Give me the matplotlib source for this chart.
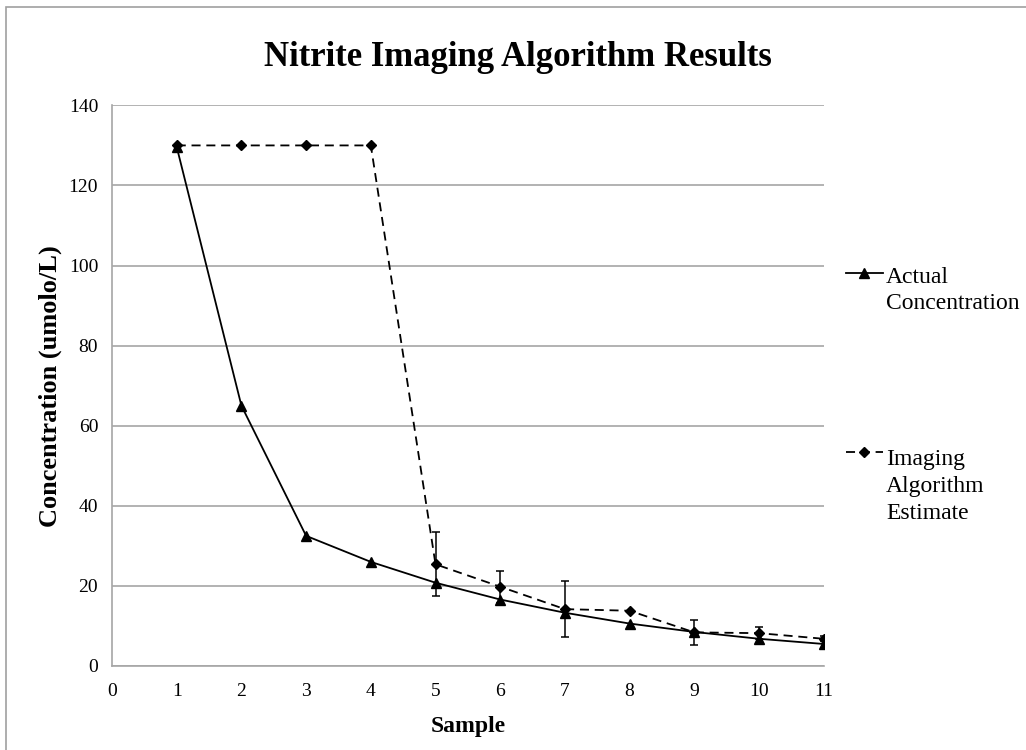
import matplotlib
matplotlib.use("Agg")
import matplotlib.pyplot as plt
from matplotlib.patches import Rectangle

samples = [1, 2, 3, 4, 5, 6, 7, 8, 9, 10, 11]
actual = [129.6, 65, 32.5, 26, 20.8, 16.6, 13.3, 10.6, 8.5, 6.8, 5.5]
estimate = [130, 130, 130, 130, 25.4, 19.8, 14.2, 13.8, 8.4, 8.2, 6.8]
est_err = [0, 0, 0, 0, 8.0, 4.0, 7.0, 0, 3.1, 1.5, 0.6]
series_labels = ['Actual\nConcentration', 'Imaging\nAlgorithm\nEstimate']

plt.rcParams['font.family'] = ['Liberation Serif', 'DejaVu Serif']

fig = plt.figure(figsize=(10.26, 7.5), dpi=100)
fig.patches.append(Rectangle((0.0055, -0.05), 1.2, 1.0405, transform=fig.transFigure,
                             fill=False, edgecolor='#a0a0a0', linewidth=1.2))

ax = fig.add_axes([0.1092, 0.112, 0.6936, 0.7475])

dash = (0, (5, 3.2))
ax.plot(samples, actual, color='black', linewidth=1.3, marker='^', markersize=6.5,
        zorder=3)
ax.errorbar(samples, estimate, yerr=est_err, color='black', linewidth=1.3,
            linestyle=dash, marker='D', markersize=5, ecolor='black',
            elinewidth=1.1, capsize=3, capthick=1.1, zorder=4)

ax.set_xlim(0, 11)
ax.set_ylim(0, 140)
ax.set_xticks(range(0, 12))
ax.set_yticks(range(0, 141, 20))
ax.yaxis.grid(True, color='#a6a6a6', linewidth=1.2)
ax.set_axisbelow(True)
for s in ['top', 'right']:
    ax.spines[s].set_visible(False)
for s in ['left', 'bottom']:
    ax.spines[s].set_color('#a6a6a6')
    ax.spines[s].set_linewidth(1.2)
ax.tick_params(axis='x', length=0, labelsize=14, pad=12)
ax.tick_params(axis='y', length=0, labelsize=14, pad=10)

ax.set_xlabel('Sample', fontsize=17, fontweight='bold', labelpad=12)
ax.set_ylabel('Concentration (umolo/L)', fontsize=19, fontweight='bold', labelpad=5)
fig.text(0.505, 0.924, 'Nitrite Imaging Algorithm Results', ha='center', va='center',
         fontsize=25, fontweight='bold')

# legend (manual, Excel-style: marker aligned with first text line)
hx0, hx1, hxm, tx = 1.0313, 1.0833, 1.0566, 1.0875
# Actual
ax.plot([hx0, hx1], [0.7018, 0.7018], color='black', linewidth=1.3,
        transform=ax.transAxes, clip_on=False)
ax.plot([hxm], [0.7018], color='black', marker='^', markersize=6.5,
        transform=ax.transAxes, clip_on=False)
ax.text(tx, 0.636, series_labels[0], transform=ax.transAxes, fontsize=17,
        va='baseline', ha='left', linespacing=1.37)
# Estimate
ax.plot([hx0, hx1], [0.382, 0.382], color='black', linewidth=1.3, linestyle=dash,
        transform=ax.transAxes, clip_on=False)
ax.plot([hxm], [0.382], color='black', marker='D', markersize=5,
        transform=ax.transAxes, clip_on=False)
ax.text(tx, 0.2625, series_labels[1], transform=ax.transAxes, fontsize=17,
        va='baseline', ha='left', linespacing=1.37)

fig.savefig('out.png', dpi=100)
